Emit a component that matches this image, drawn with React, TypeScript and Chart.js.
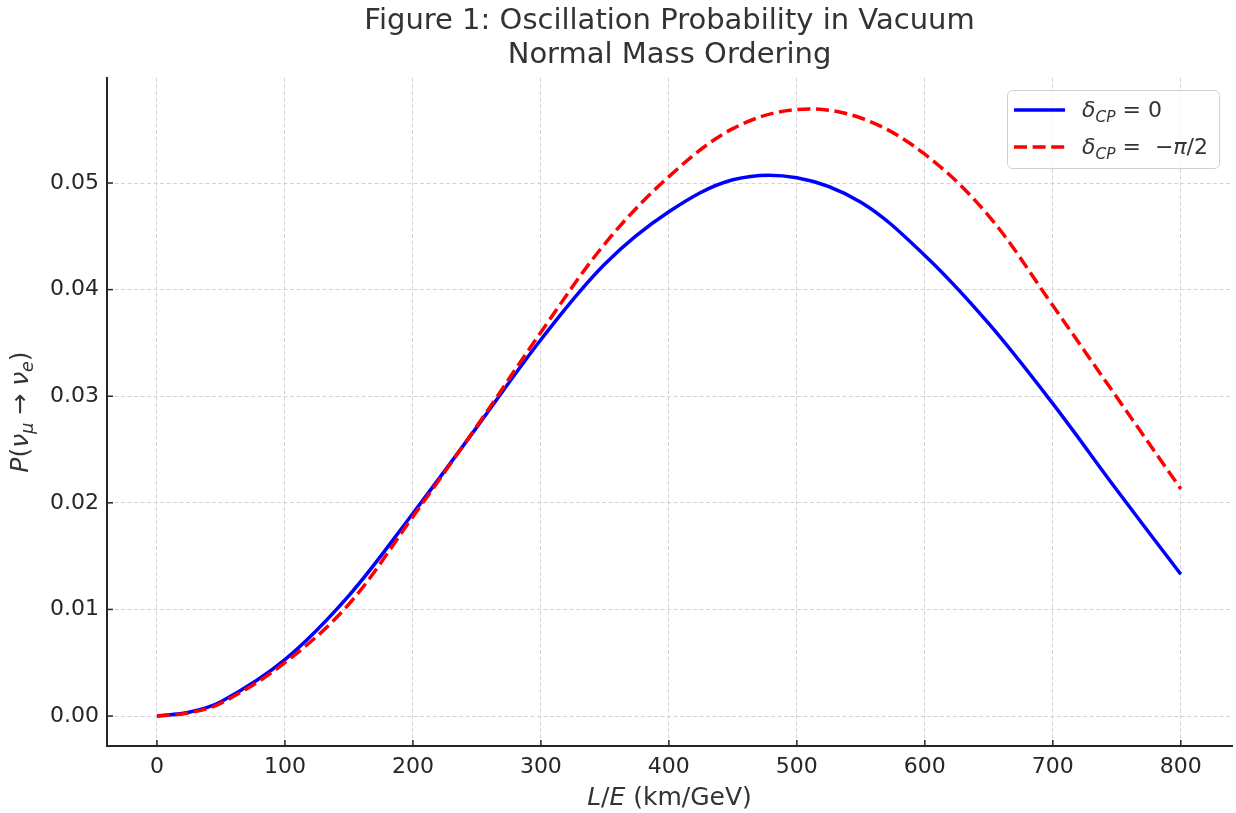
import { useEffect, useRef } from 'react';
import { Chart, registerables } from 'chart.js';

Chart.register(...registerables);

// ---- data ----
const L_E = [0, 25, 50, 100, 150, 200, 250, 300, 350, 400, 450, 500, 550, 600, 650, 700, 750, 800];
const P_DELTA_0 = [0, 0.00035, 0.00134, 0.0053, 0.0113, 0.019, 0.0271, 0.0353, 0.0424, 0.0473, 0.0503, 0.0505, 0.0482, 0.0432, 0.0368, 0.0293, 0.0212, 0.0133];
const P_DELTA_MINUS_PI_2 = [0, 0.0003, 0.0012, 0.005, 0.0105, 0.0187, 0.0272, 0.036, 0.0443, 0.0506, 0.0551, 0.0569, 0.0561, 0.0527, 0.0469, 0.0385, 0.0299, 0.0213];
const X_TICKS = [0, 100, 200, 300, 400, 500, 600, 700, 800];
const Y_TICKS = [0, 0.01, 0.02, 0.03, 0.04, 0.05];
const TITLE_LINES = ['Figure 1: Oscillation Probability in Vacuum', 'Normal Mass Ordering'];

const FONT = "'DejaVu Sans', sans-serif";
const TEXT = '#333333';
const AXIS = '#262626';
const BLUE = '#0000ff';
const RED = '#ff0000';

type Seg = { t: string; italic?: boolean; scale?: number; dy?: number };

function fontFor(s: Seg, size: number) {
  const sz = size * (s.scale ?? 1);
  return `${s.italic ? 'italic ' : ''}${sz}px ${FONT}`;
}

function segsWidth(ctx: CanvasRenderingContext2D, segs: Seg[], size: number) {
  let w = 0;
  for (const s of segs) {
    ctx.font = fontFor(s, size);
    w += ctx.measureText(s.t).width;
  }
  return w;
}

function drawSegs(ctx: CanvasRenderingContext2D, segs: Seg[], x: number, y: number, size: number) {
  let cx = x;
  ctx.textAlign = 'left';
  ctx.textBaseline = 'alphabetic';
  for (const s of segs) {
    ctx.font = fontFor(s, size);
    ctx.fillText(s.t, cx, y + (s.dy ?? 0));
    cx += ctx.measureText(s.t).width;
  }
}

const LEGEND_ITEMS: { segs: Seg[]; color: string; dash: number[] }[] = [
  {
    segs: [
      { t: 'δ', italic: true },
      { t: 'CP', italic: true, scale: 0.7, dy: 5 },
      { t: ' = 0' },
    ],
    color: BLUE,
    dash: [],
  },
  {
    segs: [
      { t: 'δ', italic: true },
      { t: 'CP', italic: true, scale: 0.7, dy: 5 },
      { t: ' =  −' },
      { t: 'π', italic: true },
      { t: '/2' },
    ],
    color: RED,
    dash: [13, 5.6],
  },
];

const Y_LABEL: Seg[] = [
  { t: 'P', italic: true },
  { t: '(' },
  { t: 'ν', italic: true },
  { t: 'μ', italic: true, scale: 0.7, dy: 5 },
  { t: ' → ' },
  { t: 'ν', italic: true },
  { t: 'e', italic: true, scale: 0.7, dy: 5 },
  { t: ')' },
];

const X_LABEL: Seg[] = [
  { t: 'L', italic: true },
  { t: '/' },
  { t: 'E', italic: true },
  { t: ' (km/GeV)' },
];

const decorPlugin = {
  id: 'decor',
  afterDraw(chart: any) {
    const { ctx, chartArea } = chart;
    const { left, right, top, bottom } = chartArea;
    const xs = chart.scales.x;
    const ys = chart.scales.y;
    ctx.save();

    // inward tick marks
    ctx.strokeStyle = AXIS;
    ctx.lineWidth = 1.5;
    ctx.setLineDash([]);
    for (const v of X_TICKS) {
      const px = xs.getPixelForValue(v);
      ctx.beginPath();
      ctx.moveTo(px, bottom);
      ctx.lineTo(px, bottom - 6);
      ctx.stroke();
    }
    for (const v of Y_TICKS) {
      const py = ys.getPixelForValue(v);
      ctx.beginPath();
      ctx.moveTo(left, py);
      ctx.lineTo(left + 6, py);
      ctx.stroke();
    }

    // title
    ctx.fillStyle = TEXT;
    ctx.font = `29px ${FONT}`;
    ctx.textAlign = 'center';
    ctx.textBaseline = 'alphabetic';
    const cx = (left + right) / 2;
    ctx.fillText(TITLE_LINES[0], cx, 29);
    ctx.fillText(TITLE_LINES[1], cx, 63);

    // x label
    const xw = segsWidth(ctx, X_LABEL, 25);
    drawSegs(ctx, X_LABEL, cx - xw / 2, 805, 25);

    // y label
    ctx.save();
    ctx.translate(28, (top + bottom) / 2);
    ctx.rotate(-Math.PI / 2);
    const yw = segsWidth(ctx, Y_LABEL, 25);
    drawSegs(ctx, Y_LABEL, -yw / 2, 0, 25);
    ctx.restore();

    // legend
    const bx = 1007.5, by = 90.5, bw = 212, bh = 78;
    ctx.beginPath();
    ctx.roundRect(bx, by, bw, bh, 5);
    ctx.fillStyle = 'rgba(255,255,255,0.8)';
    ctx.fill();
    ctx.strokeStyle = '#d0d0d0';
    ctx.lineWidth = 1;
    ctx.stroke();
    LEGEND_ITEMS.forEach((item, i) => {
      const ly = 110 + i * 37;
      ctx.strokeStyle = item.color;
      ctx.lineWidth = 3.5;
      ctx.setLineDash(item.dash);
      ctx.lineCap = 'butt';
      ctx.beginPath();
      ctx.moveTo(1014, ly);
      ctx.lineTo(1065, ly);
      ctx.stroke();
      ctx.setLineDash([]);
      ctx.fillStyle = TEXT;
      drawSegs(ctx, item.segs, 1082, ly + 7, 22);
    });

    ctx.restore();
  },
};

export default function App() {
  const canvasRef = useRef<HTMLCanvasElement | null>(null);

  useEffect(() => {
    document.body.style.margin = '0';
    const canvas = canvasRef.current;
    if (!canvas) return;
    const chart = new Chart(canvas, {
      type: 'line',
      data: {
        datasets: [
          {
            label: 'δCP = 0',
            data: L_E.map((x, i) => ({ x, y: P_DELTA_0[i] })),
            borderColor: BLUE,
            borderWidth: 3.5,
            pointRadius: 0,
            fill: false,
            tension: 0.35,
            order: 1,
          },
          {
            label: 'δCP = −π/2',
            data: L_E.map((x, i) => ({ x, y: P_DELTA_MINUS_PI_2[i] })),
            borderColor: RED,
            borderWidth: 3.5,
            borderDash: [13, 5.6],
            borderCapStyle: 'butt',
            pointRadius: 0,
            fill: false,
            tension: 0.35,
            order: 0,
          },
        ],
      },
      options: {
        responsive: false,
        animation: false,
        devicePixelRatio: 1,
        layout: { padding: { top: 78, right: 4, left: 0, bottom: 0 } },
        plugins: {
          legend: { display: false },
          title: { display: false },
          tooltip: { enabled: false },
        },
        scales: {
          x: {
            type: 'linear',
            min: -39,
            max: 840,
            afterBuildTicks: (s: any) => {
              s.ticks = X_TICKS.map((v) => ({ value: v }));
            },
            afterFit: (s: any) => {
              s.height = 67;
            },
            grid: { color: '#d3d3d3', lineWidth: 1, drawTicks: false },
            border: { display: true, color: AXIS, width: 2, dash: [4, 2.5] },
            ticks: {
              color: '#262626',
              font: { size: 22, family: FONT },
              padding: 8,
              maxRotation: 0,
              autoSkip: false,
              callback: (v: any) => String(v),
            },
          },
          y: {
            type: 'linear',
            min: -0.00281,
            max: 0.05985,
            afterBuildTicks: (s: any) => {
              s.ticks = Y_TICKS.map((v) => ({ value: v }));
            },
            afterFit: (s: any) => {
              s.width = 107;
            },
            grid: { color: '#d3d3d3', lineWidth: 1, drawTicks: false },
            border: { display: true, color: AXIS, width: 2, dash: [4, 2.5] },
            ticks: {
              color: '#262626',
              font: { size: 22, family: FONT },
              padding: 8,
              autoSkip: false,
              callback: (v: any) => Number(v).toFixed(2),
            },
          },
        },
      },
      plugins: [decorPlugin],
    } as any);
    return () => chart.destroy();
  }, []);

  return (
    <div style={{ width: 1236, height: 813 }}>
      <canvas ref={canvasRef} width={1236} height={813} style={{ display: 'block' }} />
    </div>
  );
}
